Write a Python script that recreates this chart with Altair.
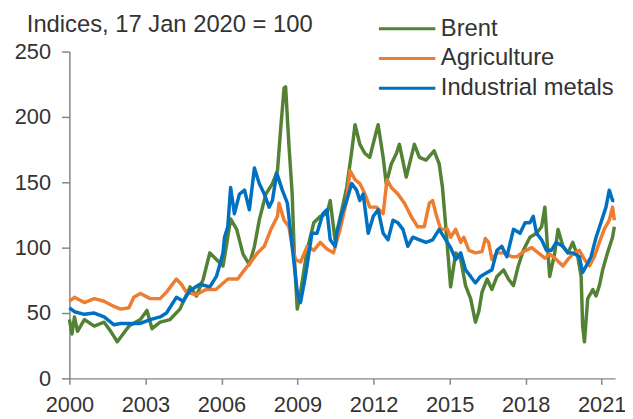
import altair as alt
import pandas as pd

series_names = ["Brent", "Agriculture", "Industrial metals"]
series_colors = ["#548235", "#ED7D31", "#0070C0"]

brent_t = [2000.00, 2000.10, 2000.20, 2000.32, 2000.59, 2000.98, 2001.37, 2001.63, 2001.89, 2002.08,
           2002.35, 2002.80, 2003.06, 2003.26, 2003.58, 2003.97, 2004.36, 2004.76, 2005.01, 2005.28,
           2005.54, 2005.80, 2006.06, 2006.19, 2006.36, 2006.60, 2006.85, 2007.10, 2007.30, 2007.49,
           2007.75, 2008.01, 2008.21, 2008.34, 2008.47, 2008.53, 2008.66, 2008.79, 2008.88, 2008.99,
           2009.12, 2009.38, 2009.64, 2009.90, 2010.16, 2010.29, 2010.48, 2010.75, 2010.94, 2011.14,
           2011.27, 2011.46, 2011.66, 2011.85, 2012.11, 2012.18, 2012.38, 2012.50, 2012.70, 2012.90,
           2013.02, 2013.29, 2013.61, 2013.81, 2014.07, 2014.39, 2014.59, 2014.72, 2014.85, 2015.04,
           2015.24, 2015.44, 2015.63, 2015.83, 2016.02, 2016.15, 2016.28, 2016.48, 2016.67, 2016.87,
           2017.13, 2017.32, 2017.52, 2017.71, 2017.91, 2018.17, 2018.43, 2018.63, 2018.76, 2018.85,
           2018.95, 2019.15, 2019.28, 2019.47, 2019.67, 2019.86, 2020.06, 2020.19, 2020.25, 2020.32,
           2020.45, 2020.65, 2020.78, 2020.91, 2021.04, 2021.23, 2021.43, 2021.50]
brent_v = [45, 34, 47, 36, 45, 40, 43, 36, 28, 33,
           40, 45, 52, 38, 43, 45, 53, 70, 63, 76,
           96, 91, 86, 101, 122, 114, 95, 87, 101, 121,
           141, 149, 159, 192, 222, 223, 179, 141, 91, 53,
           66, 98, 119, 124, 126, 136, 106, 129, 146, 174,
           194, 179, 172, 169, 189, 194, 169, 149, 164, 172,
           179, 154, 179, 169, 167, 174, 164, 146, 116, 70,
           96, 91, 71, 61, 43, 51, 66, 76, 68, 78,
           83, 76, 71, 86, 98, 108, 111, 116, 131, 104,
           78, 96, 114, 101, 96, 104, 93, 78, 40, 28,
           61, 68, 63, 71, 83, 96, 108, 116]

agri_t = [2000.00, 2000.20, 2000.59, 2000.98, 2001.37, 2001.76, 2002.02, 2002.35, 2002.54, 2002.80,
          2003.19, 2003.58, 2003.83, 2004.22, 2004.42, 2004.61, 2005.00, 2005.39, 2005.78, 2006.25,
          2006.64, 2006.91, 2007.16, 2007.42, 2007.69, 2007.95, 2008.21, 2008.27, 2008.47, 2008.66,
          2008.79, 2008.92, 2009.12, 2009.38, 2009.64, 2009.90, 2010.16, 2010.42, 2010.68, 2010.94,
          2011.07, 2011.27, 2011.46, 2011.66, 2011.85, 2012.11, 2012.38, 2012.53, 2012.70, 2012.96,
          2013.22, 2013.48, 2013.74, 2014.00, 2014.20, 2014.33, 2014.46, 2014.65, 2014.92, 2015.04,
          2015.24, 2015.44, 2015.56, 2015.76, 2016.02, 2016.28, 2016.41, 2016.54, 2016.67, 2016.87,
          2017.13, 2017.46, 2017.65, 2017.91, 2018.24, 2018.50, 2018.76, 2018.95, 2019.21, 2019.47,
          2019.67, 2019.86, 2020.12, 2020.32, 2020.52, 2020.71, 2020.91, 2021.10, 2021.30, 2021.43,
          2021.50]
agri_v = [59, 62, 58, 61, 59, 55, 53, 54, 62, 65,
          61, 61, 66, 76, 72, 66, 64, 68, 68, 76,
          76, 83, 89, 96, 101, 114, 124, 134, 121, 116,
          101, 91, 89, 101, 98, 104, 99, 96, 114, 136,
          159, 152, 149, 141, 131, 131, 126, 152, 146, 141,
          134, 124, 116, 116, 134, 136, 126, 114, 114, 108,
          114, 104, 108, 98, 96, 97, 107, 104, 91, 96,
          96, 93, 93, 97, 100, 96, 92, 95, 91, 86,
          91, 95, 98, 91, 86, 93, 104, 114, 121, 131,
          121]

metals_t = [2000.00, 2000.20, 2000.59, 2000.98, 2001.37, 2001.76, 2002.02, 2002.41, 2002.80, 2003.19,
            2003.58, 2003.83, 2004.22, 2004.49, 2004.75, 2005.15, 2005.54, 2005.80, 2005.95, 2006.06,
            2006.12, 2006.25, 2006.36, 2006.51, 2006.71, 2006.91, 2007.10, 2007.30, 2007.49, 2007.69,
            2007.88, 2008.01, 2008.18, 2008.40, 2008.60, 2008.79, 2008.99, 2009.12, 2009.31, 2009.57,
            2009.77, 2010.00, 2010.16, 2010.29, 2010.48, 2010.55, 2010.75, 2010.94, 2011.14, 2011.33,
            2011.46, 2011.59, 2011.79, 2011.99, 2012.18, 2012.38, 2012.57, 2012.77, 2012.96, 2013.16,
            2013.35, 2013.55, 2013.81, 2014.07, 2014.33, 2014.59, 2014.85, 2015.04, 2015.24, 2015.44,
            2015.63, 2015.83, 2016.02, 2016.22, 2016.48, 2016.67, 2016.87, 2017.06, 2017.26, 2017.52,
            2017.78, 2017.98, 2018.17, 2018.30, 2018.43, 2018.63, 2018.82, 2019.02, 2019.21, 2019.47,
            2019.67, 2019.86, 2020.12, 2020.25, 2020.39, 2020.58, 2020.78, 2020.97, 2021.17, 2021.30,
            2021.43, 2021.50]
metals_v = [54, 51, 49, 50, 47, 41, 42, 42, 42, 45,
            47, 50, 62, 59, 67, 72, 70, 78, 88, 96,
            108, 116, 146, 126, 141, 144, 129, 161, 149, 141,
            131, 136, 157, 144, 134, 101, 66, 58, 78, 111,
            111, 126, 129, 106, 101, 111, 126, 136, 149, 144,
            136, 141, 111, 124, 129, 111, 106, 121, 119, 114,
            101, 108, 106, 104, 106, 114, 106, 100, 91, 96,
            83, 78, 73, 78, 81, 83, 98, 101, 93, 114,
            111, 119, 119, 124, 111, 106, 98, 98, 104, 101,
            96, 96, 93, 81, 86, 93, 108, 119, 131, 144,
            136, 136]

year_ticks = [2000, 2003, 2006, 2009, 2012, 2015, 2018, 2021]
value_ticks = [0, 50, 100, 150, 200, 250]

frames = []
for name, ts, vs in zip(series_names, [brent_t, agri_t, metals_t], [brent_v, agri_v, metals_v]):
    frames.append(pd.DataFrame({"year": ts, "value": vs, "series": name, "order": range(len(ts))}))
df = pd.concat(frames, ignore_index=True)

FONT = "Liberation Sans"
TEXT = "#333333"
AXIS = "#868686"

chart = alt.Chart(df).mark_line(strokeWidth=3.5, strokeJoin="round").encode(
    x=alt.X("year:Q",
            scale=alt.Scale(domain=[2000, 2021.53], nice=False, zero=False),
            axis=alt.Axis(values=year_ticks, format="d", title=None, grid=False,
                          tickSize=6, labelPadding=10, labelFlush=False)),
    y=alt.Y("value:Q",
            scale=alt.Scale(domain=[0, 250], nice=False),
            axis=alt.Axis(values=value_ticks, title=None, grid=False,
                          tickSize=8, labelPadding=11)),
    color=alt.Color("series:N",
                    scale=alt.Scale(domain=series_names, range=series_colors),
                    legend=alt.Legend(title=None, orient="none", legendX=311, legendY=-38,
                                      symbolType="stroke", symbolSize=3249, symbolStrokeWidth=3,
                                      labelFontSize=24, labelFont=FONT, labelColor=TEXT,
                                      labelOffset=4, rowPadding=0, clipHeight=30,
                                      labelLimit=400)),
    detail="series:N",
    order="order:Q",
).properties(
    width=551,
    height=330,
    title=alt.TitleParams("Indices, 17 Jan 2020 = 100", anchor="start", frame="group",
                          dx=-43, dy=46, baseline="alphabetic",
                          fontSize=24, font=FONT, fontWeight="normal", color=TEXT,
                          offset=4),
    autosize=alt.AutoSizeParams(type="none"),
    padding={"left": 62, "top": 42, "right": 10, "bottom": 36},
).configure_axis(
    domainColor=AXIS, tickColor=AXIS, domainWidth=1.5, tickWidth=1.5,
    labelFont=FONT, labelFontSize=22, labelColor=TEXT,
).configure_view(stroke=None)

chart.save("out.html", embed_options={"renderer": "svg", "actions": False})
